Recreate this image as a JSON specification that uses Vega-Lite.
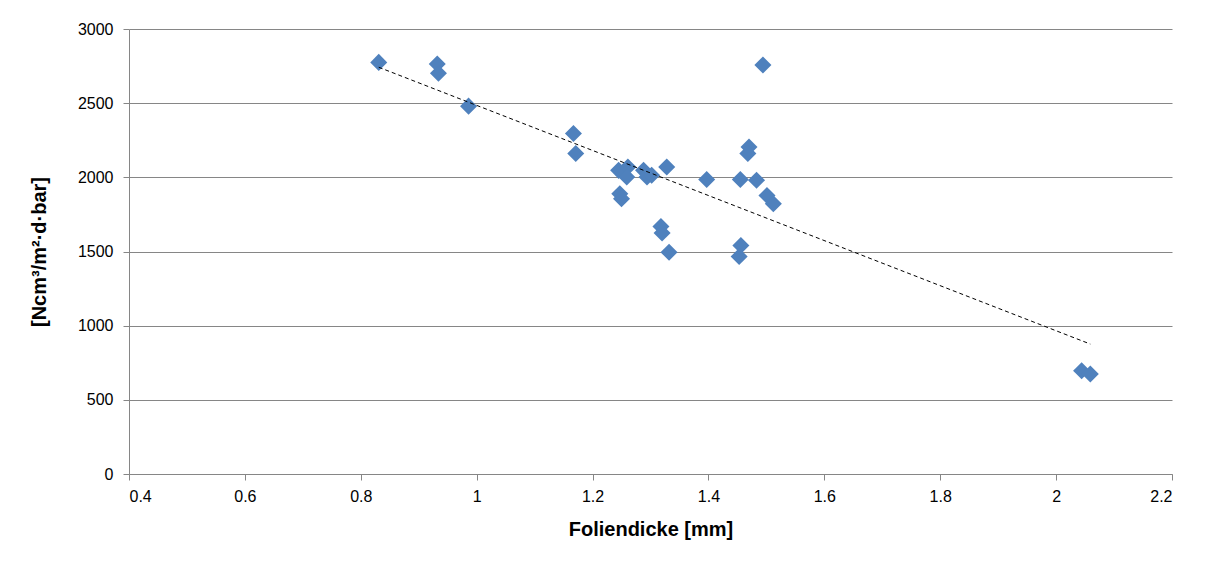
{
  "$schema": "https://vega.github.io/schema/vega-lite/v6.json",
  "width": 1043,
  "height": 445,
  "autosize": {"type": "none"},
  "padding": {"left": 129, "top": 29, "right": 42, "bottom": 91},
  "background": "white",
  "config": {
    "view": {"stroke": null},
    "font": "Liberation Sans",
    "axis": {
      "labelFont": "Liberation Sans",
      "titleFont": "Liberation Sans",
      "labelColor": "#000000",
      "titleColor": "#000000",
      "domainColor": "#868686",
      "tickColor": "#868686",
      "gridColor": "#868686",
      "gridOpacity": 1,
      "domainWidth": 1,
      "tickWidth": 1,
      "gridWidth": 1,
      "tickSize": 6,
      "labelFontSize": 16,
      "titleFontSize": 20,
      "titleFontWeight": "bold"
    }
  },
  "datasets": {
    "points": [
      {"dicke": 0.831, "wert": 2775},
      {"dicke": 0.932, "wert": 2764},
      {"dicke": 0.934, "wert": 2701},
      {"dicke": 0.986, "wert": 2480},
      {"dicke": 1.167, "wert": 2295},
      {"dicke": 1.171, "wert": 2160},
      {"dicke": 1.245, "wert": 2047},
      {"dicke": 1.261, "wert": 2070},
      {"dicke": 1.259, "wert": 2002},
      {"dicke": 1.247, "wert": 1890},
      {"dicke": 1.250, "wert": 1856},
      {"dicke": 1.288, "wert": 2047},
      {"dicke": 1.294, "wert": 2002},
      {"dicke": 1.302, "wert": 2014},
      {"dicke": 1.328, "wert": 2070},
      {"dicke": 1.318, "wert": 1669},
      {"dicke": 1.320, "wert": 1624},
      {"dicke": 1.332, "wert": 1495},
      {"dicke": 1.397, "wert": 1986},
      {"dicke": 1.455, "wert": 1986},
      {"dicke": 1.456, "wert": 1541},
      {"dicke": 1.453, "wert": 1466},
      {"dicke": 1.470, "wert": 2205},
      {"dicke": 1.468, "wert": 2160},
      {"dicke": 1.483, "wert": 1980},
      {"dicke": 1.501, "wert": 1878},
      {"dicke": 1.512, "wert": 1822},
      {"dicke": 1.494, "wert": 2757},
      {"dicke": 2.044, "wert": 696},
      {"dicke": 2.059, "wert": 674}
    ],
    "trend": [
      {"dicke": 0.831, "wert": 2742},
      {"dicke": 2.059, "wert": 876}
    ]
  },
  "layer": [
    {
      "data": {"name": "points"},
      "mark": {"type": "point", "shape": "diamond", "filled": true, "size": 290, "color": "#4F81BD", "opacity": 1},
      "encoding": {
        "x": {
          "field": "dicke", "type": "quantitative",
          "scale": {"domain": [0.4, 2.2], "nice": false, "zero": false},
          "axis": {
            "title": "Foliendicke [mm]",
            "values": [0.4, 0.6, 0.8, 1, 1.2, 1.4, 1.6, 1.8, 2, 2.2],
            "format": "~g",
            "grid": false,
            "labelPadding": 8,
            "titlePadding": 15
          }
        },
        "y": {
          "field": "wert", "type": "quantitative",
          "scale": {"domain": [0, 3000], "nice": false},
          "axis": {
            "title": "[Ncm³/m²·d·bar]",
            "values": [0, 500, 1000, 1500, 2000, 2500, 3000],
            "format": "d",
            "grid": true,
            "labelPadding": 10,
            "titlePadding": 28
          }
        }
      }
    },
    {
      "data": {"name": "trend"},
      "mark": {"type": "line", "color": "#000000", "strokeWidth": 1, "strokeDash": [4, 3]},
      "encoding": {
        "x": {"field": "dicke", "type": "quantitative"},
        "y": {"field": "wert", "type": "quantitative"}
      }
    }
  ]
}
